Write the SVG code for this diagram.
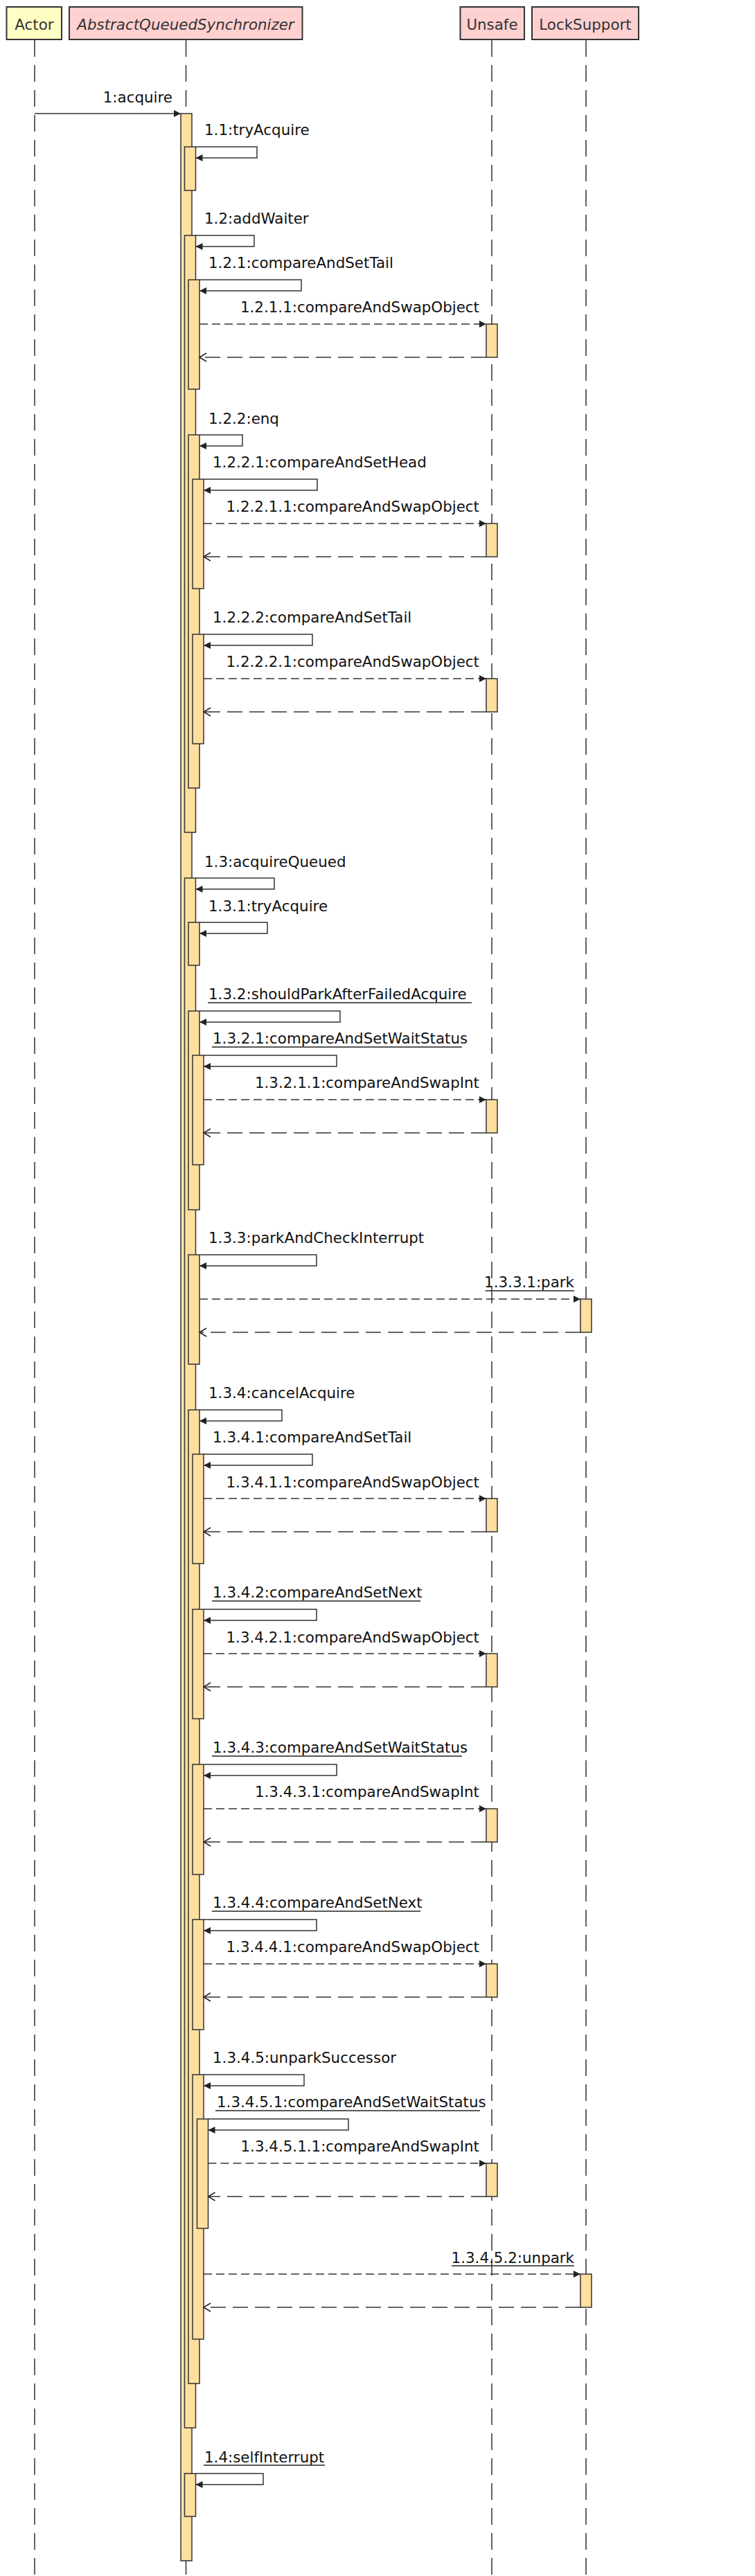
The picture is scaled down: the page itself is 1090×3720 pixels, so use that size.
<svg xmlns="http://www.w3.org/2000/svg" width="1090" height="3720" viewBox="0 0 1090 3720">
<style>
text{font-family:"DejaVu Sans","Liberation Sans",sans-serif;font-size:21.4px;fill:#111}
.hdr{stroke:#333;stroke-width:2}
.ht{fill:#333;text-anchor:middle}
.it{font-style:italic}
.life{stroke:#222;stroke-width:1.4;stroke-dasharray:24 12;fill:none}
.act{fill:#ffdf9f;stroke:#333;stroke-width:1.5}
.self{fill:none;stroke:#333;stroke-width:1.5;marker-end:url(#fa)}
.call{fill:none;stroke:#333;stroke-width:1.5;stroke-dasharray:12 6;marker-end:url(#fa)}
.ret{fill:none;stroke:#333;stroke-width:1.5;stroke-dasharray:22 10;marker-end:url(#oa)}
.sync{fill:none;stroke:#333;stroke-width:1.5;marker-end:url(#fa)}
.ul{stroke:#222;stroke-width:1.4}
.r{text-anchor:end}
</style>
<defs>
<marker id="fa" markerUnits="userSpaceOnUse" markerWidth="11" markerHeight="10" refX="10" refY="5" orient="auto"><path d="M0,0 L10,5 L0,10 z" fill="#222"/></marker>
<marker id="oa" markerUnits="userSpaceOnUse" markerWidth="13" markerHeight="14" refX="11" refY="7" orient="auto"><path d="M1,1 L11,7 L1,13" fill="none" stroke="#222" stroke-width="1.5"/></marker>
</defs>
<rect width="1090" height="3720" fill="#fff"/>
<g id="actor">
<rect class="hdr" x="9.5" y="10" width="79.5" height="47" fill="#ffffc4"/>
<text class="ht" x="49.5" y="43">Actor</text>
<line class="life" x1="50" y1="58" x2="50" y2="3720"/>
</g>
<g id="aqs">
<rect class="hdr" x="100" y="10" width="336.5" height="47" fill="#ffd0d0"/>
<text class="ht it" x="268" y="43">AbstractQueuedSynchronizer</text>
<line class="life" x1="268.5" y1="58" x2="268.5" y2="3720"/>
<rect class="act" x="261" y="164" width="16" height="3534"/>
<rect class="act" x="266.5" y="212" width="16" height="63"/>
<rect class="act" x="266.5" y="340" width="16" height="862"/>
<rect class="act" x="266.5" y="1268" width="16" height="2238"/>
<rect class="act" x="266.5" y="3572" width="16" height="62"/>
<rect class="act" x="272" y="404" width="16" height="158"/>
<rect class="act" x="272" y="628" width="16" height="510"/>
<rect class="act" x="272" y="1332" width="16" height="62"/>
<rect class="act" x="272" y="1460" width="16" height="287"/>
<rect class="act" x="272" y="1812" width="16" height="158"/>
<rect class="act" x="272" y="2036" width="16" height="1406"/>
<rect class="act" x="278" y="692" width="16" height="158"/>
<rect class="act" x="278" y="916" width="16" height="158"/>
<rect class="act" x="278" y="1524" width="16" height="158"/>
<rect class="act" x="278" y="2100" width="16" height="158"/>
<rect class="act" x="278" y="2324" width="16" height="158"/>
<rect class="act" x="278" y="2548" width="16" height="159"/>
<rect class="act" x="278" y="2772" width="16" height="159"/>
<rect class="act" x="278" y="2996" width="16" height="382"/>
<rect class="act" x="284.5" y="3060" width="16" height="158"/>
</g>
<g id="unsafe">
<rect class="hdr" x="664.5" y="10" width="92.5" height="47" fill="#ffd0d0"/>
<text class="ht" x="710.5" y="43">Unsafe</text>
<line class="life" x1="710" y1="58" x2="710" y2="3720"/>
<rect class="act" x="702" y="468" width="16" height="48"/>
<rect class="act" x="702" y="756" width="16" height="48"/>
<rect class="act" x="702" y="980" width="16" height="48"/>
<rect class="act" x="702" y="1588" width="16" height="48"/>
<rect class="act" x="702" y="2164" width="16" height="48"/>
<rect class="act" x="702" y="2388" width="16" height="48"/>
<rect class="act" x="702" y="2612" width="16" height="48"/>
<rect class="act" x="702" y="2836" width="16" height="48"/>
<rect class="act" x="702" y="3124" width="16" height="48"/>
</g>
<g id="locksupport">
<rect class="hdr" x="768" y="10" width="154" height="47" fill="#ffd0d0"/>
<text class="ht" x="845" y="43">LockSupport</text>
<line class="life" x1="846" y1="58" x2="846" y2="3720"/>
<rect class="act" x="838" y="1876" width="16" height="48"/>
<rect class="act" x="838" y="3284" width="16" height="48"/>
</g>
<g id="connectors">
<path class="sync" d="M50,164 H261"/>
<text class="r" x="249" y="148">1:acquire</text>

<path class="self" d="M282.5,212 H371 V228 H282.5"/>
<text x="295" y="195">1.1:tryAcquire</text>

<path class="self" d="M282.5,340 H367 V356 H282.5"/>
<text x="295" y="323">1.2:addWaiter</text>

<path class="self" d="M288,404 H435 V420 H288"/>
<text x="301" y="387">1.2.1:compareAndSetTail</text>

<path class="call" d="M288,468 H702"/>
<path class="ret" d="M702,516 H288"/>
<text class="r" x="692" y="451">1.2.1.1:compareAndSwapObject</text>

<path class="self" d="M288,628 H350 V644 H288"/>
<text x="301" y="612">1.2.2:enq</text>

<path class="self" d="M294,692 H458 V708 H294"/>
<text x="307" y="675">1.2.2.1:compareAndSetHead</text>

<path class="call" d="M294,756 H702"/>
<path class="ret" d="M702,804 H294"/>
<text class="r" x="692" y="739">1.2.2.1.1:compareAndSwapObject</text>

<path class="self" d="M294,916 H451 V932 H294"/>
<text x="307" y="899">1.2.2.2:compareAndSetTail</text>

<path class="call" d="M294,980 H702"/>
<path class="ret" d="M702,1028 H294"/>
<text class="r" x="692" y="963">1.2.2.2.1:compareAndSwapObject</text>

<path class="self" d="M282.5,1268 H396 V1284 H282.5"/>
<text x="295" y="1252">1.3:acquireQueued</text>

<path class="self" d="M288,1332 H386 V1348 H288"/>
<text x="301" y="1316">1.3.1:tryAcquire</text>

<path class="self" d="M288,1460 H491 V1476 H288"/>
<text x="301" y="1443">1.3.2:shouldParkAfterFailedAcquire</text>
<line class="ul" x1="300" y1="1448" x2="681" y2="1448"/>

<path class="self" d="M294,1524 H486 V1540 H294"/>
<text x="307" y="1507">1.3.2.1:compareAndSetWaitStatus</text>
<line class="ul" x1="306" y1="1512" x2="667" y2="1512"/>

<path class="call" d="M294,1588 H702"/>
<path class="ret" d="M702,1636 H294"/>
<text class="r" x="692" y="1571">1.3.2.1.1:compareAndSwapInt</text>

<path class="self" d="M288,1812 H457 V1828 H288"/>
<text x="301" y="1795">1.3.3:parkAndCheckInterrupt</text>

<path class="call" d="M288,1876 H838"/>
<path class="ret" d="M838,1924 H288"/>
<text class="r" x="829" y="1859">1.3.3.1:park</text>
<line class="ul" x1="701" y1="1864" x2="829" y2="1864"/>

<path class="self" d="M288,2036 H407 V2052 H288"/>
<text x="301" y="2019">1.3.4:cancelAcquire</text>

<path class="self" d="M294,2100 H451 V2116 H294"/>
<text x="307" y="2083">1.3.4.1:compareAndSetTail</text>

<path class="call" d="M294,2164 H702"/>
<path class="ret" d="M702,2212 H294"/>
<text class="r" x="692" y="2148">1.3.4.1.1:compareAndSwapObject</text>

<path class="self" d="M294,2324 H457 V2340 H294"/>
<text x="307" y="2307">1.3.4.2:compareAndSetNext</text>
<line class="ul" x1="306" y1="2312" x2="607" y2="2312"/>

<path class="call" d="M294,2388 H702"/>
<path class="ret" d="M702,2436 H294"/>
<text class="r" x="692" y="2372">1.3.4.2.1:compareAndSwapObject</text>

<path class="self" d="M294,2548 H486 V2564 H294"/>
<text x="307" y="2531">1.3.4.3:compareAndSetWaitStatus</text>
<line class="ul" x1="306" y1="2536" x2="667" y2="2536"/>

<path class="call" d="M294,2612 H702"/>
<path class="ret" d="M702,2660 H294"/>
<text class="r" x="692" y="2595">1.3.4.3.1:compareAndSwapInt</text>

<path class="self" d="M294,2772 H457 V2788 H294"/>
<text x="307" y="2755">1.3.4.4:compareAndSetNext</text>
<line class="ul" x1="306" y1="2760" x2="607" y2="2760"/>

<path class="call" d="M294,2836 H702"/>
<path class="ret" d="M702,2884 H294"/>
<text class="r" x="692" y="2819">1.3.4.4.1:compareAndSwapObject</text>

<path class="self" d="M294,2996 H439 V3012 H294"/>
<text x="307" y="2979">1.3.4.5:unparkSuccessor</text>

<path class="self" d="M300.5,3060 H503 V3076 H300.5"/>
<text x="313" y="3043">1.3.4.5.1:compareAndSetWaitStatus</text>
<line class="ul" x1="311" y1="3048" x2="693" y2="3048"/>

<path class="call" d="M300.5,3124 H702"/>
<path class="ret" d="M702,3172 H300.5"/>
<text class="r" x="692" y="3107">1.3.4.5.1.1:compareAndSwapInt</text>

<path class="call" d="M294,3284 H838"/>
<path class="ret" d="M838,3332 H294"/>
<text class="r" x="829" y="3268">1.3.4.5.2:unpark</text>
<line class="ul" x1="652" y1="3272" x2="829" y2="3272"/>

<path class="self" d="M282.5,3572 H380 V3588 H282.5"/>
<text x="295" y="3556">1.4:selfInterrupt</text>
<line class="ul" x1="294" y1="3560" x2="469" y2="3560"/>
</g>
</svg>
